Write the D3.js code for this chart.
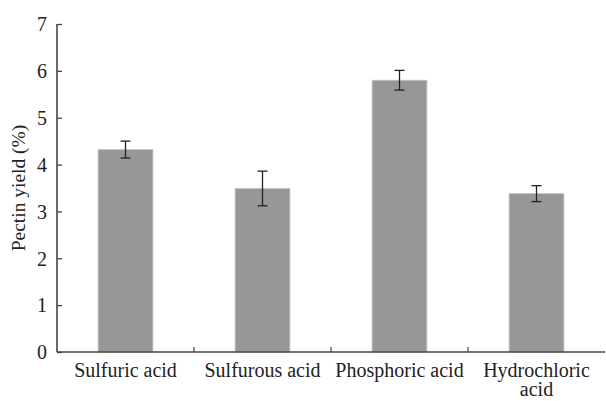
<!DOCTYPE html>
<html>
<head>
<meta charset="utf-8">
<script src="https://cdn.jsdelivr.net/npm/d3@7"></script>
<style>
  html, body { margin: 0; padding: 0; background: #fff; }
</style>
</head>
<body>
<svg id="chart" width="606" height="401"></svg>
<script>
// Pectin yield by extraction acid (mean ± error)
const categories = [["Sulfuric acid"], ["Sulfurous acid"], ["Phosphoric acid"], ["Hydrochloric", "acid"]];
const yieldValues = [4.32, 3.49, 5.80, 3.38];
const yieldErrors = [0.18, 0.37, 0.21, 0.17];
const yTicks = [0, 1, 2, 3, 4, 5, 6, 7];

const FONT = "Liberation Serif";
const TEXT_COLOR = "#222";

const svg = d3.select("#chart");
const margin = { left: 57, right: 1, top: 24, bottom: 49 };
const width = 606, height = 401;

const x = d3.scaleBand()
  .domain(d3.range(categories.length))
  .range([margin.left, width - margin.right])
  .paddingInner(0).paddingOuter(0);

const y = d3.scaleLinear().domain([0, 7]).range([height - margin.bottom, margin.top]);

const barW = x.bandwidth() * 0.4;
const axisColor = "#444";

// bars
svg.append("g").selectAll("rect")
  .data(yieldValues)
  .join("rect")
  .attr("x", (d, i) => x(i) + x.bandwidth() / 2 - barW / 2)
  .attr("y", d => y(d))
  .attr("width", barW)
  .attr("height", d => y(0) - y(d))
  .attr("fill", "#979797")
  .attr("stroke", "#c4c4c4")
  .attr("stroke-width", 0.8);

// error bars
const eg = svg.append("g").attr("stroke", "#222").attr("stroke-width", 1.3);
yieldValues.forEach((v, i) => {
  const cx = x(i) + x.bandwidth() / 2;
  const e = yieldErrors[i];
  eg.append("line").attr("x1", cx).attr("x2", cx).attr("y1", y(v + e)).attr("y2", y(v - e));
  eg.append("line").attr("x1", cx - 5).attr("x2", cx + 5).attr("y1", y(v + e)).attr("y2", y(v + e));
  eg.append("line").attr("x1", cx - 5).attr("x2", cx + 5).attr("y1", y(v - e)).attr("y2", y(v - e));
});

// y axis with inward ticks
const yAxis = svg.append("g")
  .attr("transform", `translate(${margin.left},0)`)
  .call(d3.axisLeft(y).tickValues(yTicks).tickSize(-5).tickPadding(9).tickFormat(d3.format("d")));
yAxis.attr("font-family", null).attr("font-size", null);
yAxis.select(".domain").attr("stroke", axisColor).attr("stroke-width", 1.6).attr("d", `M0,${y(7)}V${y(0)}`);
yAxis.selectAll(".tick line").attr("stroke", axisColor).attr("stroke-width", 1.3);
yAxis.selectAll(".tick text")
  .attr("x", -10)
  .attr("dy", "0.34em")
  .attr("font-family", FONT)
  .style("font-family", FONT).style("font-size", "20px").style("fill", TEXT_COLOR);

// x axis baseline and inner category separators
svg.append("line")
  .attr("x1", margin.left).attr("x2", width - margin.right)
  .attr("y1", y(0)).attr("y2", y(0))
  .attr("stroke", axisColor).attr("stroke-width", 1.6);
svg.append("g").selectAll("line")
  .data(d3.range(1, categories.length))
  .join("line")
  .attr("x1", i => x(i)).attr("x2", i => x(i))
  .attr("y1", y(0)).attr("y2", y(0) - 5)
  .attr("stroke", axisColor).attr("stroke-width", 1.2);

// category labels (one text element per line)
categories.forEach((lines, i) => {
  const cx = x(i) + x.bandwidth() / 2;
  lines.forEach((ln, k) => {
    svg.append("text")
      .attr("x", cx).attr("y", y(0) + 25 + k * 19)
      .attr("text-anchor", "middle")
      .attr("font-family", FONT)
      .style("font-family", FONT).style("font-size", "20px").style("fill", TEXT_COLOR)
      .text(ln);
  });
});

// y axis title
svg.append("text")
  .attr("transform", `translate(25,${(y(0) + y(7)) / 2}) rotate(-90)`)
  .attr("text-anchor", "middle")
  .attr("font-family", FONT)
  .style("font-family", FONT).style("font-size", "19.5px").style("fill", TEXT_COLOR)
  .text("Pectin yield (%)");
</script>
</body>
</html>
